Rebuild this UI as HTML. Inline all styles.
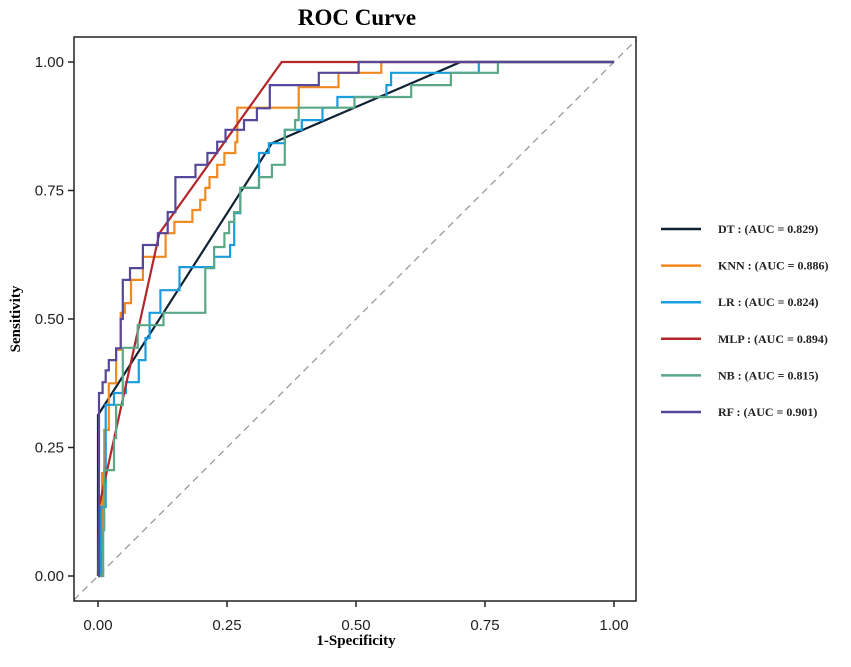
<!DOCTYPE html>
<html><head><meta charset="utf-8"><style>
body{margin:0;background:#fff;}
svg{display:block;}
</style></head><body>
<svg id="chart" width="851" height="667" viewBox="0 0 851 667" xmlns="http://www.w3.org/2000/svg">
<text x="357" y="25" text-anchor="middle" font-family="Liberation Serif, serif" font-weight="bold" font-size="23">ROC Curve</text>
<g id="plot"></g>
<text x="356" y="645" text-anchor="middle" font-family="Liberation Serif, serif" font-weight="bold" font-size="15">1-Specificity</text>
<text transform="translate(20,319) rotate(-90)" text-anchor="middle" font-family="Liberation Serif, serif" font-weight="bold" font-size="15">Sensitivity</text>
<g id="legend"></g>
</svg>
<script>
const xTicks=[0,0.25,0.5,0.75,1];
const yTicks=[0,0.25,0.5,0.75,1];
const tickLabels=["0.00","0.25","0.50","0.75","1.00"];
const seriesNames=["DT","KNN","LR","MLP","NB","RF"];
const aucValues=["0.829","0.886","0.824","0.894","0.815","0.901"];
const colors=["#0f2233","#f0891f","#1a9ddf","#b3272a","#5aa887","#56479a"];
const dtFpr=[0,0,0.337,0.703,1];
const dtTpr=[0,0.313,0.842,1,1];
const mlpFpr=[0,0.002,0.119,0.356,1];
const mlpTpr=[0,0.134,0.667,1,1];
const knnFpr=[0,0.008,0.012,0.021,0.035,0.044,0.052,0.064,0.087,0.131,0.148,0.183,0.198,0.208,0.216,0.231,0.245,0.266,0.270,0.389,0.466,0.549,1];
const knnTpr=[0,0.200,0.284,0.375,0.44,0.512,0.531,0.576,0.621,0.667,0.689,0.712,0.732,0.755,0.776,0.80,0.823,0.844,0.911,0.951,0.979,1,1];
const lrFpr=[0,0.006,0.006,0.015,0.015,0.031,0.054,0.079,0.092,0.100,0.121,0.158,0.225,0.256,0.264,0.276,0.312,0.331,0.362,0.395,0.435,0.464,0.559,0.568,0.738,1];
const lrTpr=[0,0.089,0.134,0.288,0.333,0.356,0.377,0.42,0.463,0.512,0.556,0.601,0.621,0.644,0.706,0.755,0.823,0.842,0.868,0.887,0.911,0.932,0.955,0.979,1,1];
const nbFpr=[0,0.010,0.012,0.031,0.035,0.048,0.077,0.127,0.208,0.225,0.245,0.254,0.264,0.276,0.312,0.337,0.362,0.382,0.389,0.497,0.607,0.684,0.775,1];
const nbTpr=[0,0.089,0.206,0.268,0.333,0.444,0.488,0.512,0.599,0.640,0.667,0.689,0.708,0.755,0.776,0.80,0.868,0.887,0.911,0.932,0.955,0.979,1,1];
const rfFpr=[0,0.002,0.009,0.015,0.021,0.035,0.044,0.048,0.062,0.087,0.116,0.135,0.150,0.189,0.212,0.231,0.247,0.283,0.308,0.333,0.428,0.505,1];
const rfTpr=[0,0.356,0.377,0.40,0.42,0.443,0.50,0.576,0.599,0.644,0.667,0.708,0.776,0.80,0.823,0.845,0.868,0.887,0.91,0.955,0.979,1,1];

const NS="http://www.w3.org/2000/svg";
const X0=98,X1=614,Y0=576,Y1=62;
const PL=74,PR=636,PT=37,PB=601;
function sx(v){return X0+v*(X1-X0);}
function sy(v){return Y0-v*(Y0-Y1);}
function mk(tag,attrs,parent){const e=document.createElementNS(NS,tag);for(const k in attrs)e.setAttribute(k,attrs[k]);parent.appendChild(e);return e;}
const plot=document.getElementById('plot');
const defs=mk('defs',{},plot);
const cp=mk('clipPath',{id:'pc'},defs);
mk('rect',{x:PL,y:PT,width:PR-PL,height:PB-PT},cp);
const diag=mk('line',{x1:sx((PL-X0)/(X1-X0)),y1:sy((PL-X0)/(X1-X0)),x2:sx((PR-X0)/(X1-X0)),y2:sy((PR-X0)/(X1-X0)),stroke:'#999',"stroke-width":1.3,"stroke-dasharray":"7,5","clip-path":"url(#pc)"},plot);


function linePath(fx,fy){let d='';for(let i=0;i<fx.length;i++)d+=(i?'L':'M')+sx(fx[i]).toFixed(1)+','+sy(fy[i]).toFixed(1);return d;}
function stepPath(fx,fy){let d='M'+sx(fx[0]).toFixed(1)+','+sy(fy[0]).toFixed(1);for(let i=1;i<fx.length;i++)d+='H'+sx(fx[i]).toFixed(1)+'V'+sy(fy[i]).toFixed(1);return d;}
const curves=[[dtFpr,dtTpr,0,false],[knnFpr,knnTpr,1,true],[lrFpr,lrTpr,2,true],[mlpFpr,mlpTpr,3,false],[nbFpr,nbTpr,4,true],[rfFpr,rfTpr,5,true]];
curves.forEach(c=>{
  const p=mk('path',{d:c[3]?stepPath(c[0],c[1]):linePath(c[0],c[1]),fill:'none',stroke:colors[c[2]],"stroke-width":2.2,"stroke-linejoin":"miter"},plot);
  
  
});
const box=mk('rect',{x:PL,y:PT,width:PR-PL,height:PB-PT,fill:'none',stroke:'#222',"stroke-width":1.5},plot);


xTicks.forEach((v,i)=>{
  const t=mk('line',{x1:sx(v),x2:sx(v),y1:PB,y2:PB+6,stroke:'#222',"stroke-width":1.5},plot);
  
  
  const l=mk('text',{x:sx(v),y:PB+29,"text-anchor":"middle","font-family":"Liberation Sans, sans-serif","font-size":15,fill:'#222'},plot);
  
  
  l.textContent=tickLabels[i];
});
yTicks.forEach((v,i)=>{
  const t=mk('line',{x1:PL-6,x2:PL,y1:sy(v),y2:sy(v),stroke:'#222',"stroke-width":1.5},plot);
  
  
  const l=mk('text',{x:PL-10,y:sy(v)+5,"text-anchor":"end","font-family":"Liberation Sans, sans-serif","font-size":15,fill:'#222'},plot);
  
  
  l.textContent=tickLabels[i];
});
const leg=document.getElementById('legend');
seriesNames.forEach((n,i)=>{
  const y=229+i*36.6;
  const g=mk('g',{},leg);
  
  
  mk('line',{x1:661,x2:701,y1:y,y2:y,stroke:colors[i],"stroke-width":2.5},g);
  const t=mk('text',{x:718,y:y+4,"font-family":"Liberation Serif, serif","font-weight":"bold","font-size":12,fill:'#222'},g);
  t.textContent=n+' : (AUC = '+aucValues[i]+')';
});
</script>
</body></html>
